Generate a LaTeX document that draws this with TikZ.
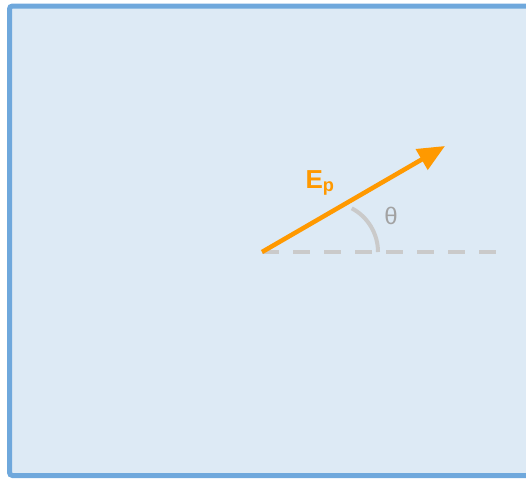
\documentclass[tikz,border=0pt]{standalone}
\usepackage{fontspec}
\setmainfont{Liberation Sans}
\usetikzlibrary{arrows.meta,calc}

\definecolor{panelfill}{HTML}{DDEAF5}
\definecolor{paneldraw}{HTML}{6FA8DC}
\definecolor{fieldorange}{HTML}{FF9900}
\definecolor{refgray}{HTML}{CACACA}

\begin{document}
\begin{tikzpicture}[
    x=1pt, y=-1pt,
    panel/.style={draw=paneldraw, fill=panelfill, line width=5pt, rounded corners=3pt},
    field/.style={-{Triangle[length=27pt,width=23pt]}, draw=fieldorange, line width=4.5pt},
    refline/.style={draw=refgray, line width=4pt, dash pattern=on 17pt off 14pt},
    anglearc/.style={draw=refgray, line width=4pt},
    fieldlabel/.style={text=fieldorange, font=\fontsize{26}{30}\selectfont\bfseries},
    anglelabel/.style={text=refgray!80!black, font=\fontsize{24}{28}\selectfont}
]
\useasboundingbox (0,0) rectangle (526,480);
\clip (0,0) rectangle (526,480);

% panel
\draw[panel] (9.5,6) rectangle (560,475.5);

% points
\coordinate (O) at (262,252);
\coordinate (tip) at (445,146);
\coordinate (refend) at (497,252);
\coordinate (arcfoot) at (378,252);

% reference direction and angle
\draw[refline] (O) -- (refend);
\draw[anglearc] (arcfoot) arc[start angle=0, end angle=-62, radius=49.5];

% field vector
\draw[field] (O) -- (tip);

% labels
\node[fieldlabel] (Ep) at (320,183) {E\textsubscript{p}};
\node[anglelabel] (theta) at (391,216) {θ};

\end{tikzpicture}
\end{document}
